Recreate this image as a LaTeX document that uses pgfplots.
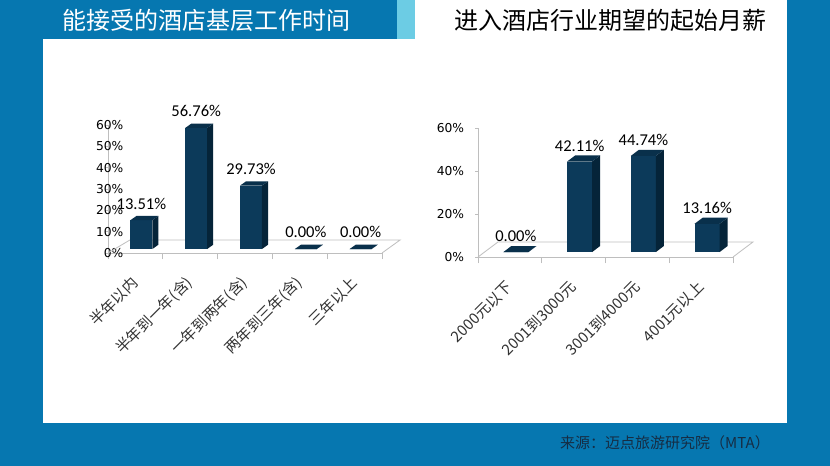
\documentclass[border=0pt]{standalone}
\usepackage{pgfplots}
\pgfplotsset{compat=1.18}
\usepackage{fontspec}
\setmainfont{Noto Sans CJK SC}
\newfontfamily\cjk{Noto Sans CJK SC}
\newfontfamily\numfont{DejaVu Sans}
\newfontfamily\lblfont{Carlito}
\definecolor{frameblue}{RGB}{6,119,176}
\definecolor{accent}{RGB}{108,204,228}
\definecolor{barfront}{RGB}{12,58,90}
\definecolor{barside}{RGB}{5,36,57}
\definecolor{bartop}{RGB}{9,48,75}
\definecolor{axgray}{RGB}{190,190,190}
\definecolor{srctext}{RGB}{22,45,68}

\newcommand{\tdbar}[2]{%
  \pgfmathsetmacro\myxl{#1+\bshift-\bhw}%
  \pgfmathsetmacro\myxr{#1+\bshift+\bhw}%
  \pgfmathsetmacro\myxlb{#1+\bshift-\bhw+\bdx}%
  \pgfmathsetmacro\myxrb{#1+\bshift+\bhw+\bdx}%
  \pgfmathsetmacro\myyb{\bbase}%
  \pgfmathsetmacro\myyt{\bbase+#2}%
  \pgfmathsetmacro\myybb{\bbase+\bdy}%
  \pgfmathsetmacro\myytb{\bbase+#2+\bdy}%
  \addplot[fill=barfront, draw=none] coordinates {(\myxl,\myyb) (\myxr,\myyb) (\myxr,\myyt) (\myxl,\myyt)} -- cycle;
  \addplot[fill=barside, draw=none] coordinates {(\myxr,\myyb) (\myxrb,\myybb) (\myxrb,\myytb) (\myxr,\myyt)} -- cycle;
  \addplot[fill=bartop, draw=none] coordinates {(\myxl,\myyt) (\myxr,\myyt) (\myxrb,\myytb) (\myxlb,\myytb)} -- cycle;
}

\pgfplotsset{
  chart3d/.style={
    anchor=south west, scale only axis, clip=false,
    ymin=0, ymax=60,
    axis lines=left,
    axis line style={-, draw=axgray, line width=0.6pt},
    major tick length=2.25pt,
    minor tick length=4.5pt,
    tick align=outside,
    major x tick style={draw=none},
    ytick style={draw=axgray, line width=0.6pt},
    minor x tick style={draw=axgray, line width=0.6pt},
    yticklabel style={font=\numfont\fontsize{9.2pt}{10pt}\selectfont, text=black, anchor=east, inner sep=0pt, xshift=-8pt},
    xticklabel style={font=\cjk\fontsize{11.3pt}{13pt}\selectfont, text=black!80, yshift=-18pt, rotate=45, anchor=east, inner sep=0pt},
  },
  dlabels/.style={draw=none, mark=none, nodes near coords, point meta=explicit symbolic,
    every node near coord/.append style={font=\lblfont\fontsize{12.4pt}{14pt}\selectfont, text=black, inner sep=0pt, anchor=south, yshift=11pt}},
}

\begin{document}
\begin{tikzpicture}
\path[use as bounding box] (0,0) rectangle (622.5pt,-349.5pt);
\fill[frameblue] (0,0) rectangle (622.5pt,-349.5pt);
\fill[white] (32.25pt,-29.25pt) rectangle (590.25pt,-317.25pt);
\fill[white] (311.25pt,0pt) rectangle (590.25pt,-29.25pt);
\fill[accent] (297.75pt,0pt) rectangle (311.25pt,-29.25pt);
\node[text=white, font=\cjk\fontsize{18pt}{20pt}\selectfont, inner sep=0pt] at (154.5pt,-15pt) {能接受的酒店基层工作时间};
\node[text=black, font=\cjk\fontsize{18pt}{20pt}\selectfont, inner sep=0pt] at (457.5pt,-15pt) {进入酒店行业期望的起始月薪};
\node[text=srctext, font=\cjk\fontsize{11.25pt}{13pt}\selectfont, inner sep=0pt] at (498.75pt,-332.25pt) {来源：迈点旅游研究院（MTA）};

% Left chart
\def\bshift{0.11}\def\bhw{0.2}\def\bdx{0.11}\def\bdy{2.0}\def\bbase{1.875}
\begin{axis}[chart3d,
  at={(81pt,-189.75pt)}, width=205.5pt, height=96pt,
  xmin=-0.5, xmax=4.5,
  ytick={0,10,20,30,40,50,60},
  yticklabels={0\%,10\%,20\%,30\%,40\%,50\%,60\%},
  yticklabel style={xshift=22pt},
  xtick={0,1,2,3,4},
  xticklabels={半年以内,半年到一年(含),一年到两年(含),两年到三年(含),三年以上},
  minor xtick={-0.5,0.5,1.5,2.5,3.5,4.5},
]
\draw[axgray, line width=0.6pt] (axis cs:-0.5,0) -- (axis cs:-0.1,6.1) -- (axis cs:4.83,6.1) -- (axis cs:4.5,0);
\tdbar{0}{13.51}
\tdbar{1}{56.76}
\tdbar{2}{29.73}
\tdbar{3}{0}
\tdbar{4}{0}
\addplot[dlabels] coordinates {(0.11,13.51)[13.51\%] (1.11,56.76)[56.76\%] (2.11,29.73)[29.73\%] (3.11,0)[0.00\%] (4.11,0)[0.00\%]};
\end{axis}

% Right chart
\def\bshift{0.094}\def\bhw{0.196}\def\bdx{0.125}\def\bdy{2.8}\def\bbase{2.3}
\begin{axis}[chart3d,
  at={(358.5pt,-192.75pt)}, width=191.25pt, height=96.75pt,
  xmin=-0.5, xmax=3.5,
  ytick={0,20,40,60},
  yticklabels={0\%,20\%,40\%,60\%},
  xtick={0,1,2,3},
  xticklabels={2000元以下,2001到3000元,3001到4000元,4001元以上},
  minor xtick={-0.5,0.5,1.5,2.5,3.5},
]
\draw[axgray, line width=0.6pt] (axis cs:-0.5,0) -- (axis cs:-0.186,7.0) -- (axis cs:3.814,7.0) -- (axis cs:3.5,0);
\tdbar{0}{0}
\tdbar{1}{42.11}
\tdbar{2}{44.74}
\tdbar{3}{13.16}
\addplot[dlabels] coordinates {(0.094,0)[0.00\%] (1.094,42.11)[42.11\%] (2.094,44.74)[44.74\%] (3.094,13.16)[13.16\%]};
\end{axis}
\end{tikzpicture}
\end{document}
